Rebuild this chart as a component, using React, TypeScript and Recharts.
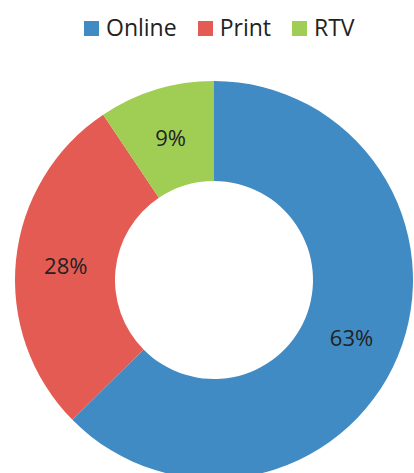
import { PieChart, Pie, Cell } from 'recharts';

const channels = ['Online', 'Print', 'RTV'];
const shares = [62.6, 28.0, 9.4];
const colors = ['#418BC4', '#E45B53', '#A0CE54'];

const data = channels.map((name, i) => ({ name, value: shares[i] }));

const FONT = '"Open Sans", sans-serif';
const RADIAN = Math.PI / 180;

const renderLabel = (props: any) => {
    const { cx, cy, midAngle, innerRadius, outerRadius, percent } = props;
    const r = (innerRadius + outerRadius) / 2;
    const x = cx + r * Math.cos(-midAngle * RADIAN);
    const y = cy + r * Math.sin(-midAngle * RADIAN);
    return (
        <text
            x={x}
            y={y}
            fill="#222"
            fontSize={22}
            fontFamily={FONT}
            textAnchor="middle"
            dominantBaseline="central"
        >
            {`${Math.round(percent * 100)}%`}
        </text>
    );
};

export default function App() {
    return (
        <div style={{ position: 'relative', width: 414, height: 473, background: '#fff', overflow: 'hidden' }}>
            <style>{'body{margin:0}'}</style>
            {/* legend sits above the chart, not inside the plot offset */}
            <div
                style={{
                    position: 'absolute',
                    top: 11,
                    left: 84,
                    display: 'flex',
                    alignItems: 'center',
                    fontFamily: FONT,
                    fontSize: 23,
                    color: '#222',
                    zIndex: 1,
                }}
            >
                {channels.map((name, i) => (
                    <div key={name} style={{ display: 'flex', alignItems: 'center', marginRight: 21 }}>
                        <div style={{ width: 15, height: 15, background: colors[i], marginRight: 7, marginTop: 3 }} />
                        <span>{name}</span>
                    </div>
                ))}
            </div>
            <PieChart width={414} height={473} margin={{ top: 0, right: 0, bottom: 0, left: 0 }}>
                <Pie
                    data={data}
                    dataKey="value"
                    nameKey="name"
                    cx={214}
                    cy={280}
                    innerRadius={99}
                    outerRadius={199}
                    startAngle={90}
                    endAngle={-270}
                    stroke="none"
                    label={renderLabel}
                    labelLine={false}
                    isAnimationActive={false}
                >
                    {data.map((d, i) => (
                        <Cell key={d.name} fill={colors[i]} />
                    ))}
                </Pie>
            </PieChart>
        </div>
    );
}
